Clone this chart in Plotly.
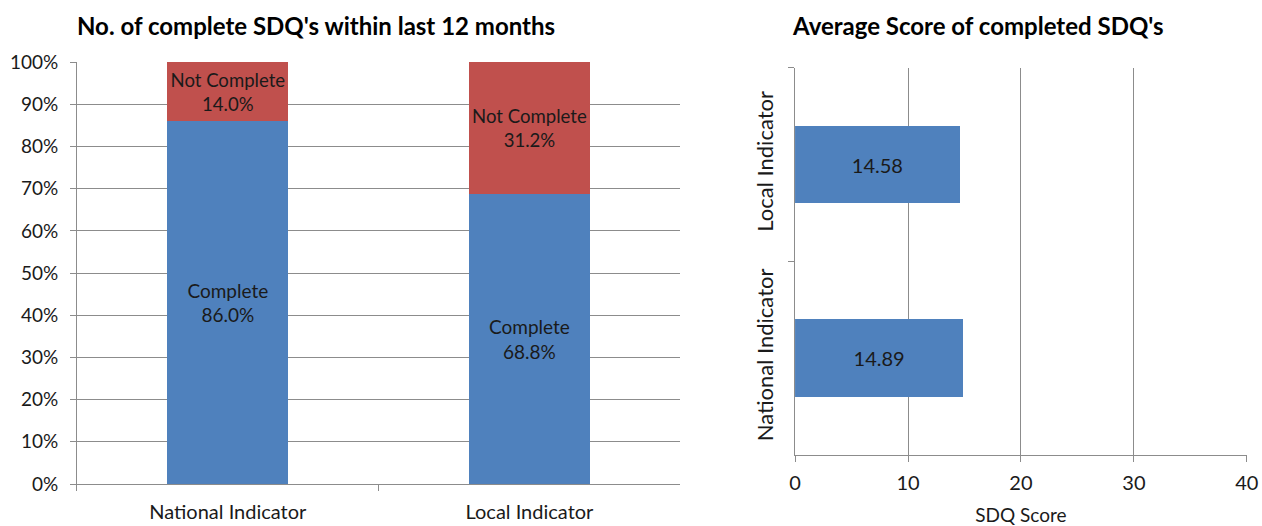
import plotly.graph_objects as go

categories = ["National Indicator", "Local Indicator"]
complete_pct = [86.0, 68.8]
not_complete_pct = [14.0, 31.2]
score_categories = ["National Indicator", "Local Indicator"]
avg_scores = [14.89, 14.58]

BLUE = "#4F81BD"
RED = "#C0504D"
GRID = "#8C8C8C"
FONT = "Lato, Open Sans, sans-serif"
TXT = "#1a1a1a"

fig = go.Figure()

fig.add_trace(go.Bar(
    x=categories, y=complete_pct, marker_color=BLUE, marker_line_width=0,
    text=[f"Complete<br>{v:.1f}%" for v in complete_pct],
    textposition="inside", insidetextanchor="middle", textangle=0,
    textfont=dict(size=19, color=TXT, family=FONT),
    xaxis="x", yaxis="y", name="Complete", showlegend=False, hoverinfo="skip"))
fig.add_trace(go.Bar(
    x=categories, y=not_complete_pct, marker_color=RED, marker_line_width=0,
    text=[f"Not Complete<br>{v:.1f}%" for v in not_complete_pct],
    textposition="inside", insidetextanchor="middle", textangle=0,
    textfont=dict(size=19, color=TXT, family=FONT),
    xaxis="x", yaxis="y", name="Not Complete", showlegend=False, hoverinfo="skip"))

fig.add_trace(go.Bar(
    y=score_categories, x=avg_scores, orientation="h", marker_color=BLUE,
    marker_line_width=0,
    text=[f"{v:.2f}" for v in avg_scores],
    textposition="inside", insidetextanchor="middle", textangle=0,
    textfont=dict(size=20, color=TXT, family=FONT),
    xaxis="x2", yaxis="y2", showlegend=False, hoverinfo="skip"))

fig.update_layout(
    template="none",
    width=1262, height=526,
    margin=dict(l=0, r=0, t=0, b=0, autoexpand=False),
    paper_bgcolor="white", plot_bgcolor="white",
    barmode="stack", bargap=0.6,
    font=dict(family=FONT, size=19, color=TXT),
    uniformtext=dict(mode=False),
    xaxis=dict(domain=[0.061, 0.539], anchor="y", showgrid=False, automargin=False,
               showline=True, linecolor=GRID, linewidth=1,
               ticks="outside", tickson="boundaries", ticklen=6, tickcolor=GRID,
               ticklabelstandoff=10, tickfont=dict(size=20)),
    yaxis=dict(domain=[0.0798, 0.882], anchor="x", range=[0, 100], automargin=False,
               tickvals=list(range(0, 101, 10)),
               ticktext=[f"{v}%" for v in range(0, 101, 10)],
               showgrid=True, gridcolor=GRID, gridwidth=1,
               showline=True, linecolor=GRID, linewidth=1,
               ticks="outside", ticklen=6, tickcolor=GRID,
               ticklabelstandoff=8,
               zeroline=False, tickfont=dict(size=19)),
    xaxis2=dict(domain=[0.630, 0.988], anchor="y2", range=[0, 40], automargin=False,
                tickvals=[0, 10, 20, 30, 40],
                showgrid=True, gridcolor=GRID, gridwidth=1,
                showline=True, linecolor=GRID, linewidth=1,
                ticks="outside", ticklen=6, tickcolor=GRID,
                ticklabelstandoff=4,
                zeroline=False, tickfont=dict(size=20),
                title=dict(text="SDQ Score", font=dict(size=19), standoff=18)),
    yaxis2=dict(domain=[0.135, 0.871], anchor="x2", automargin=False,
                showgrid=False, showline=True, linecolor=GRID, linewidth=1,
                ticks="outside", tickson="boundaries", ticklen=6, tickcolor=GRID,
                ticklabelstandoff=12,
                tickangle=-90, tickfont=dict(size=22)),
    annotations=[
        dict(text="<b>No. of complete SDQ's within last 12 months</b>",
             x=75 / 1262, y=1 - 25 / 526, xref="paper", yref="paper",
             xanchor="left", yanchor="middle", showarrow=False,
             font=dict(size=24, family=FONT, color="#000000")),
        dict(text="<b>Average Score of completed SDQ's</b>",
             x=790 / 1262, y=1 - 25 / 526, xref="paper", yref="paper",
             xanchor="left", yanchor="middle", showarrow=False,
             font=dict(size=24, family=FONT, color="#000000")),
    ],
)

fig.write_html("out.html")
